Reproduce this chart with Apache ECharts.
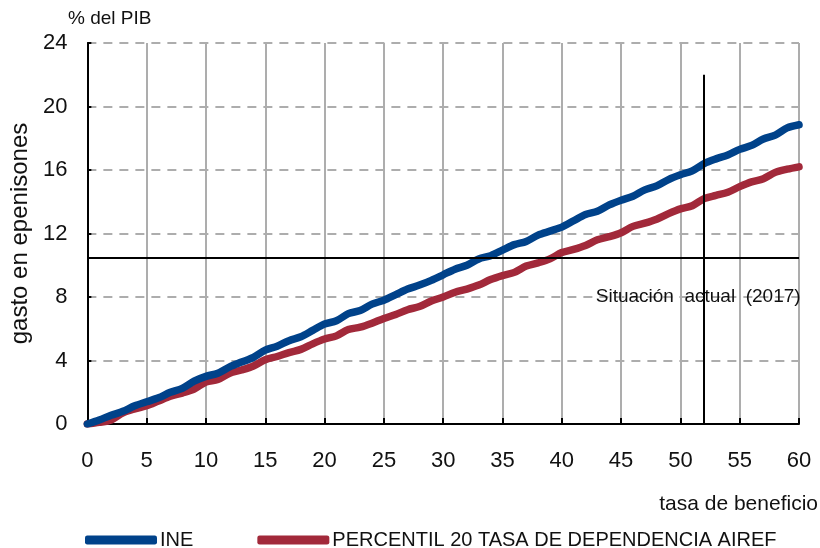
<!DOCTYPE html>
<html>
<head>
<meta charset="utf-8">
<script src="https://cdn.jsdelivr.net/npm/echarts@6/dist/echarts.min.js"></script>
<style>
  html, body { margin: 0; padding: 0; background: #fff; }
  #chart { width: 820px; height: 548px; }
</style>
</head>
<body>
<div id="chart"></div>
<script>
  // tasa de beneficio (x) and gasto en pensiones (% del PIB)
  const tasa = [];
  for (let i = 0; i <= 60; i++) tasa.push(i);

  const ine = [
    0.00, 0.25, 0.55, 0.80, 1.15, 1.40, 1.65, 2.00, 2.25, 2.70,
    3.00, 3.20, 3.60, 3.90, 4.20, 4.65, 4.90, 5.25, 5.50, 5.90,
    6.30, 6.50, 6.95, 7.15, 7.55, 7.80, 8.15, 8.50, 8.75, 9.05,
    9.40, 9.75, 10.00, 10.40, 10.60, 10.95, 11.30, 11.50, 11.90, 12.15,
    12.40, 12.80, 13.20, 13.40, 13.80, 14.10, 14.35, 14.75, 15.00, 15.40,
    15.70, 15.95, 16.40, 16.70, 16.95, 17.30, 17.55, 17.95, 18.20, 18.65,
    18.85
  ];

  const airef = [
    0.00, 0.10, 0.25, 0.70, 0.95, 1.15, 1.45, 1.75, 1.95, 2.20,
    2.65, 2.80, 3.20, 3.40, 3.65, 4.05, 4.25, 4.50, 4.70, 5.05,
    5.35, 5.55, 5.95, 6.10, 6.35, 6.65, 6.90, 7.20, 7.40, 7.75,
    8.00, 8.30, 8.50, 8.75, 9.10, 9.35, 9.55, 9.95, 10.15, 10.40,
    10.80, 11.00, 11.25, 11.60, 11.80, 12.05, 12.45, 12.65, 12.90, 13.25,
    13.55, 13.75, 14.20, 14.40, 14.60, 14.95, 15.25, 15.45, 15.85, 16.05,
    16.20
  ];

  const seriesNames = ['INE', 'PERCENTIL 20 TASA DE DEPENDENCIA AIREF'];
  const actualLevel = 10.5;     // Situación actual (2017)
  const actualTasa = 52;
  const actualTop = 22;
  const labelPos = [51.5, 8];

  const FONT = '"Liberation Sans Narrow", "Liberation Sans", Arial, sans-serif';
  const chart = echarts.init(document.getElementById('chart'), null, { renderer: 'canvas' });

  const pair = (xs, ys) => ys.map((v, i) => [xs[i], v]);

  chart.setOption({
    animation: false,
    backgroundColor: '#fff',
    textStyle: { fontFamily: FONT, color: '#111' },
    grid: { left: 84, right: 21, top: 43, bottom: 124 },
    legend: {
      left: 80, top: 525,
      itemWidth: 72, itemHeight: 9, itemGap: 64,
      icon: 'roundRect',
      textStyle: { fontFamily: FONT, fontSize: 20, color: '#111', padding: [0, 0, 0, -2] },
      data: seriesNames
    },
    graphic: [
      { type: 'text', left: 68, top: 9,
        style: { text: '% del PIB', font: '19px ' + FONT, fill: '#111' } },
      { type: 'text', right: 2, top: 494,
        style: { text: 'tasa de beneficio', font: '21px ' + FONT, fill: '#111' } }
    ],
    xAxis: {
      type: 'value', min: 0, max: 60, interval: 5,
      axisLine: { lineStyle: { color: '#000', width: 2 } },
      axisTick: { inside: true, length: 6, lineStyle: { color: '#000', width: 2 } },
      axisLabel: { fontFamily: FONT, fontSize: 22, color: '#111', margin: 26 },
      splitLine: { show: true, lineStyle: { color: '#adadad', width: 2, type: 'solid' } }
    },
    yAxis: {
      type: 'value', min: 0, max: 24, interval: 4,
      name: 'gasto en epenisones', nameLocation: 'middle', nameGap: 42,
      nameTextStyle: { fontFamily: FONT, fontSize: 24, color: '#111' },
      axisLine: { show: true, lineStyle: { color: '#000', width: 2 } },
      axisTick: { show: true, inside: true, length: 4, lineStyle: { color: '#000', width: 2 } },
      axisLabel: { fontFamily: FONT, fontSize: 22, color: '#111', margin: 20 },
      splitLine: { show: true, lineStyle: { color: '#adadad', width: 2, type: [9, 7] } }
    },
    series: [
      {
        name: seriesNames[0], type: 'line', data: pair(tasa, ine),
        showSymbol: false, symbol: 'none', smooth: 0.3, z: 4,
        itemStyle: { color: '#00428a' },
        lineStyle: { color: '#00428a', width: 7.5, cap: 'round', join: 'round' },
        markLine: {
          silent: true, symbol: 'none', animation: false,
          lineStyle: { color: '#000', width: 2, type: 'solid' },
          label: { show: false },
          data: [
            [{ coord: [0, actualLevel] }, { coord: [60, actualLevel] }],
            [{ coord: [actualTasa, 0] }, { coord: [actualTasa, actualTop] }]
          ]
        },
        markPoint: {
          silent: true, symbol: 'circle', symbolSize: 0,
          label: {
            show: true, position: 'inside', formatter: 'Situación  actual  (2017)',
            fontFamily: FONT, fontSize: 19, color: '#111'
          },
          data: [{ coord: labelPos }]
        }
      },
      {
        name: seriesNames[1], type: 'line', data: pair(tasa, airef),
        showSymbol: false, symbol: 'none', smooth: 0.3, z: 3,
        itemStyle: { color: '#a2293a' },
        lineStyle: { color: '#a2293a', width: 7.5, cap: 'round', join: 'round' }
      }
    ]
  });
</script>
</body>
</html>
